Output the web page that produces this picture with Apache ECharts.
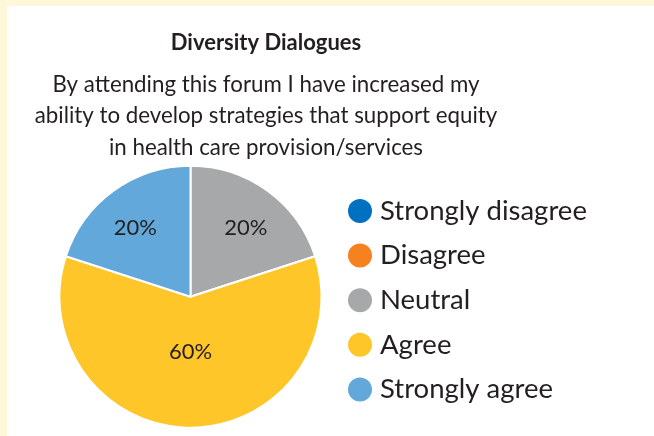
<!DOCTYPE html>
<html>
<head>
<meta charset="utf-8">
<script src="https://cdn.jsdelivr.net/npm/echarts@6/dist/echarts.min.js"></script>
<style>
html,body{margin:0;padding:0;width:654px;height:436px;overflow:hidden;background:#FFF7DA;}
#panel{position:absolute;left:7px;top:6px;right:0;bottom:0;background:#ffffff;}
#chart{position:absolute;left:0;top:0;width:654px;height:436px;}
</style>
</head>
<body>
<div id="panel"></div>
<div id="chart"></div>
<script>
const titleText = 'Diversity Dialogues';
const subtitleLines = [
  'By attending this forum I have increased my',
  'ability to develop strategies that support equity',
  'in health care provision/services'
];
const categories = ['Strongly disagree', 'Disagree', 'Neutral', 'Agree', 'Strongly agree'];
const values = [0, 0, 1, 3, 1];
const colors = ['#0070C0', '#F5821F', '#A6A8A9', '#FFC629', '#62A8DA'];

const FONT = 'Lato';
const labelShift = {2: [15, -13], 3: [0, -13], 4: [-15, -13]};

const chart = echarts.init(document.getElementById('chart'), null, {renderer: 'canvas'});
chart.setOption({
  animation: false,
  backgroundColor: 'transparent',
  color: colors,
  title: {
    text: titleText,
    subtext: subtitleLines.join('\n'),
    left: 266,
    top: 31,
    textAlign: 'center',
    itemGap: 14,
    padding: 0,
    textStyle: {fontFamily: FONT, fontSize: 22, fontWeight: 'bold', color: '#231F20', lineHeight: 24},
    subtextStyle: {fontFamily: FONT, fontSize: 22.3, color: '#231F20', lineHeight: 31.5}
  },
  legend: {
    orient: 'vertical',
    left: 348,
    top: 197,
    itemWidth: 30,
    itemHeight: 24,
    itemGap: 16.6,
    icon: 'circle',
    padding: 0,
    data: categories,
    itemStyle: {borderWidth: 0},
    textStyle: {fontFamily: FONT, fontSize: 27.5, color: '#231F20', lineHeight: 24}
  },
  series: [{
    type: 'pie',
    center: [190.5, 296.7],
    radius: 131,
    startAngle: 90,
    clockwise: true,
    avoidLabelOverlap: false,
    itemStyle: {borderColor: '#ffffff', borderWidth: 2},
    label: {
      show: true,
      position: 'inside',
      fontFamily: FONT,
      fontSize: 22,
      color: '#231F20',
      formatter: p => p.value ? Math.round(p.percent) + '%' : ''
    },
    labelLine: {show: false},
    labelLayout: p => {
      const s = labelShift[p.dataIndex] || [0, 0];
      return {dx: s[0], dy: s[1]};
    },
    emphasis: {disabled: true},
    data: categories.map((c, i) => ({name: c, value: values[i]}))
  }]
});
</script>
</body>
</html>
